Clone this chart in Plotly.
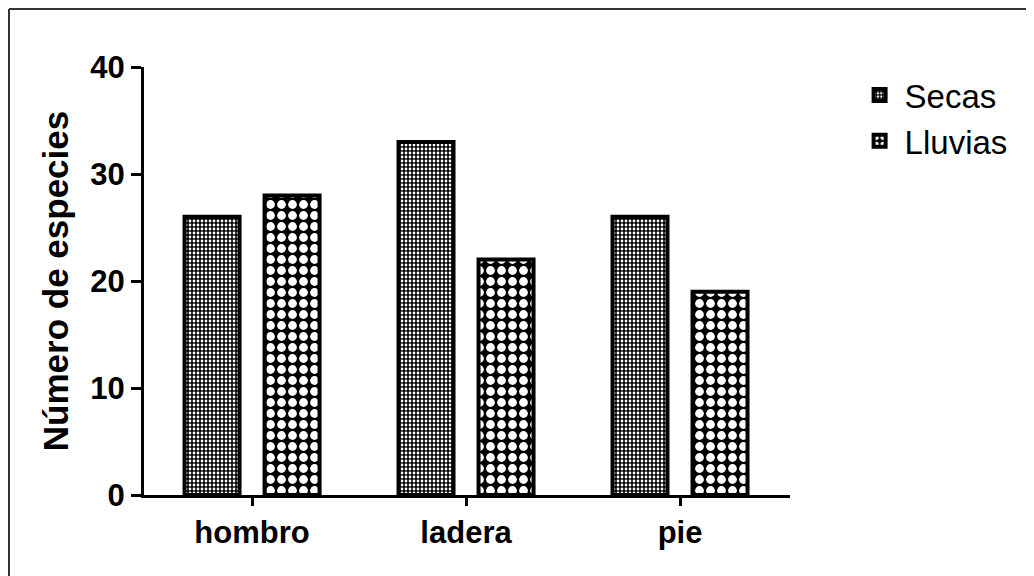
import plotly.graph_objects as go

categories = ["hombro", "ladera", "pie"]
secas = [26, 33, 26]
lluvias = [28, 22, 19]
y_ticks = [0, 10, 20, 30, 40]

FONT = "Arial, 'Liberation Sans', sans-serif"
BAR_W = 0.257

# plot area in figure pixels
L, R, T, B = 136, 252, 59, 89
PW, PH = 1034 - L - R, 576 - T - B

fig = go.Figure()
fig.add_trace(go.Bar(
    name="Secas", x=categories, y=secas,
    width=BAR_W, offset=-0.3155,
    marker=dict(color="black",
                line=dict(color="black", width=4),
                pattern=dict(shape=".", fgcolor="white", fgopacity=1,
                             size=4, solidity=0.38, fillmode="overlay")),
))
fig.add_trace(go.Bar(
    name="Lluvias", x=categories, y=lluvias,
    width=BAR_W, offset=0.0585,
    marker=dict(color="black",
                line=dict(color="black", width=4),
                pattern=dict(shape=".", fgcolor="white", fgopacity=1,
                             size=11, solidity=0.5, fillmode="overlay")),
))

fig.update_layout(
    width=1034, height=576,
    margin=dict(l=L, r=R, t=T, b=B),
    paper_bgcolor="white", plot_bgcolor="white",
    barmode="overlay",
    font=dict(family=FONT, color="black"),
    legend=dict(x=1.10, y=1.0, xanchor="left", yanchor="top",
                font=dict(family=FONT, size=33, color="black"),
                bgcolor="rgba(0,0,0,0)", itemwidth=40),
    shapes=[
        dict(type="line", xref="paper", yref="paper",
             x0=-(L - 1) / PW, x1=1 + R / PW, y0=1 + (T - 1) / PH, y1=1 + (T - 1) / PH,
             line=dict(color="#333", width=2)),
        dict(type="line", xref="paper", yref="paper",
             x0=-(L - 1) / PW, x1=-(L - 1) / PW, y0=1 + (T - 1) / PH, y1=-B / PH,
             line=dict(color="#333", width=2)),
    ],
)
fig.update_xaxes(
    type="category", range=[-0.505, 2.514],
    showline=True, linecolor="black", linewidth=3,
    ticks="outside", ticklen=8, tickwidth=3, tickcolor="black",
    tickfont=dict(family=FONT, size=31, weight="bold"),
    showgrid=False, zeroline=False,
)
fig.update_yaxes(
    range=[0, 40], tickvals=y_ticks,
    showline=True, linecolor="black", linewidth=3,
    ticks="outside", ticklen=10, tickwidth=3, tickcolor="black",
    tickfont=dict(family=FONT, size=31, weight="bold"),
    title=dict(text="Número de especies", standoff=12,
               font=dict(family=FONT, size=35, weight="bold")),
    showgrid=False, zeroline=False,
)

fig.write_html("out.html")
